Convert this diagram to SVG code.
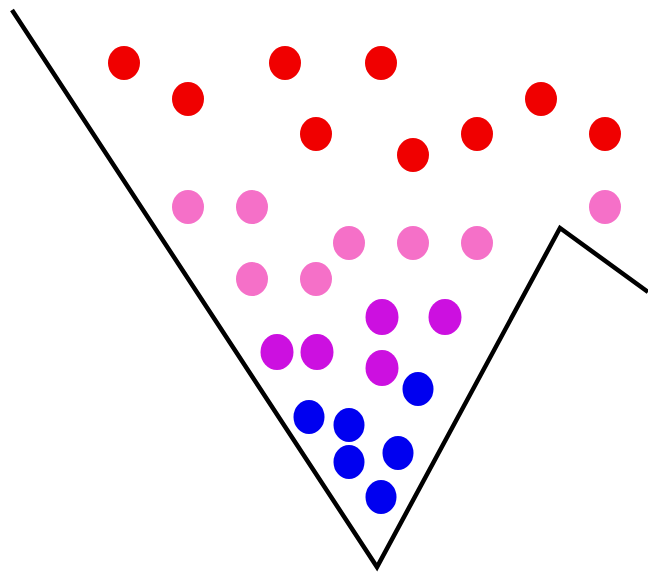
<svg xmlns="http://www.w3.org/2000/svg" width="648" height="574" viewBox="0 0 648 574">
<style>
.r{fill:#f00000}.p{fill:#f570c8}.m{fill:#cc10e0}.b{fill:#0000f0}
ellipse{}
</style>
<rect width="648" height="574" fill="#fff"/>
<polyline points="12,10 377,567 560,228 648,292" fill="none" stroke="#000" stroke-width="4.5" stroke-linejoin="miter"/>
<g id="red">
<ellipse class="r" cx="124" cy="63" rx="16" ry="17"/>
<ellipse class="r" cx="188" cy="99" rx="16" ry="17"/>
<ellipse class="r" cx="285" cy="63" rx="16" ry="17"/>
<ellipse class="r" cx="381" cy="63" rx="16" ry="17"/>
<ellipse class="r" cx="316" cy="134" rx="16" ry="17"/>
<ellipse class="r" cx="413" cy="155" rx="16" ry="17"/>
<ellipse class="r" cx="477" cy="134" rx="16" ry="17"/>
<ellipse class="r" cx="541" cy="99" rx="16" ry="17"/>
<ellipse class="r" cx="605" cy="134" rx="16" ry="17"/>
</g>
<g id="pink">
<ellipse class="p" cx="188" cy="207" rx="16" ry="17"/>
<ellipse class="p" cx="252" cy="207" rx="16" ry="17"/>
<ellipse class="p" cx="605" cy="207" rx="16" ry="17"/>
<ellipse class="p" cx="349" cy="243" rx="16" ry="17"/>
<ellipse class="p" cx="413" cy="243" rx="16" ry="17"/>
<ellipse class="p" cx="477" cy="243" rx="16" ry="17"/>
<ellipse class="p" cx="252" cy="279" rx="16" ry="17"/>
<ellipse class="p" cx="316" cy="279" rx="16" ry="17"/>
</g>
<g id="purple">
<ellipse class="m" cx="382" cy="317" rx="16.5" ry="18"/>
<ellipse class="m" cx="445" cy="317" rx="16.5" ry="18"/>
<ellipse class="m" cx="277" cy="352" rx="16.5" ry="18"/>
<ellipse class="m" cx="317" cy="352" rx="16.5" ry="18"/>
<ellipse class="m" cx="382" cy="368" rx="16.5" ry="18"/>
</g>
<g id="blue">
<ellipse class="b" cx="418" cy="389" rx="15.5" ry="17"/>
<ellipse class="b" cx="309" cy="417" rx="15.5" ry="17"/>
<ellipse class="b" cx="349" cy="425" rx="15.5" ry="17"/>
<ellipse class="b" cx="349" cy="462" rx="15.5" ry="17"/>
<ellipse class="b" cx="398" cy="453" rx="15.5" ry="17"/>
<ellipse class="b" cx="381" cy="497" rx="15.5" ry="17"/>
</g>
</svg>
